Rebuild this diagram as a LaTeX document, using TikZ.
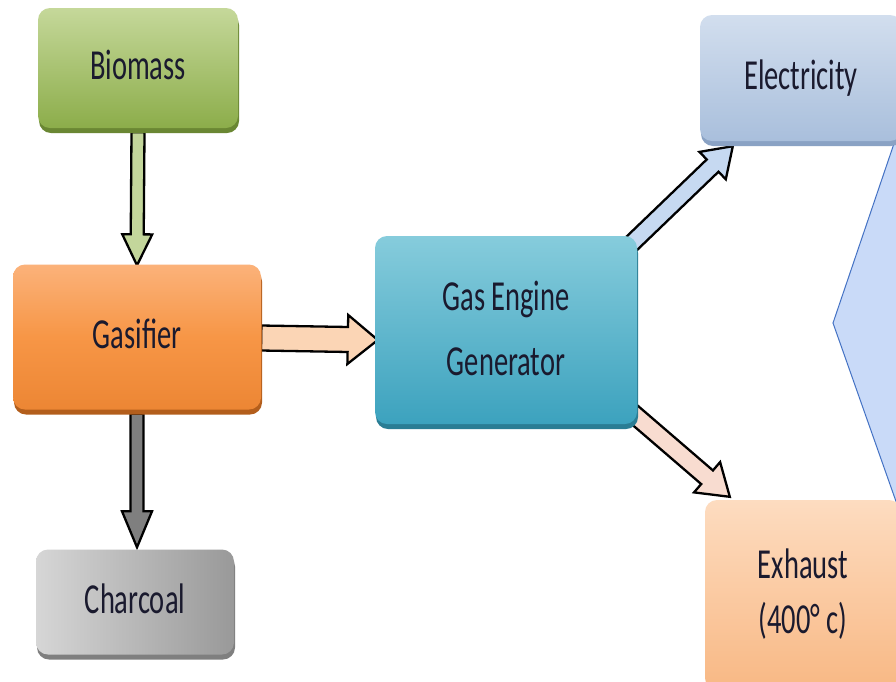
\documentclass[tikz,border=0pt]{standalone}
\usepackage{fontspec}
\setmainfont{Carlito}
\usetikzlibrary{calc,shadows,backgrounds}
\definecolor{txt}{HTML}{1A1A2E}
\definecolor{bioT}{HTML}{C5D89A}\definecolor{bioB}{HTML}{8CAD4A}\definecolor{bioS}{HTML}{6A8733}
\definecolor{gasT}{HTML}{FBB27A}\definecolor{gasM}{HTML}{F79646}\definecolor{gasB}{HTML}{EC8634}\definecolor{gasS}{HTML}{B35E1C}
\definecolor{chT}{HTML}{D6D6D6}\definecolor{chB}{HTML}{999999}\definecolor{chS}{HTML}{5F5F5F}
\definecolor{enT}{HTML}{86CCDC}\definecolor{enB}{HTML}{3CA2BE}\definecolor{enS}{HTML}{2A7D94}
\definecolor{elT}{HTML}{D2DEEE}\definecolor{elB}{HTML}{A9BFDC}\definecolor{elS}{HTML}{8AA2C4}
\definecolor{exT}{HTML}{FDDCC0}\definecolor{exB}{HTML}{F8B884}\definecolor{exS}{HTML}{D99A6A}
\definecolor{aBio}{HTML}{C3D69B}\definecolor{aChar}{HTML}{7F7F7F}\definecolor{aGas}{HTML}{FBD5B5}
\definecolor{aEl}{HTML}{C6D9F1}\definecolor{aEx}{HTML}{F8DCD0}
\definecolor{callF}{HTML}{C9DAF8}\definecolor{callD}{HTML}{4472C4}
\newcommand\Tx[2][1.15]{\scalebox{1}[1.5]{\def\arraystretch{#1}\begin{tabular}{@{}c@{}}#2\end{tabular}}}
\newcommand\blockarrow[6]{%
  \draw[arrowline, fill=#6] let \p1=(#1), \p2=(#2),
    \n1={atan2(\y2-\y1,\x2-\x1)}, \n2={veclen(\x2-\x1,\y2-\y1)} in
    [shift={(\p1)}, rotate=\n1]
    (0,-#3) -- ({\n2-#5},-#3) -- ({\n2-#5},-#4) -- (\n2,0) -- ({\n2-#5},#4)
    -- ({\n2-#5},#3) -- (0,#3) -- cycle;}
\tikzset{
  box/.style={rectangle, rounded corners=12pt, inner sep=0pt, text=txt,
    font=\fontsize{28.5}{34}\selectfont},
  arrowline/.style={draw=black, line width=2.3pt, line join=miter},
}
\begin{document}
\begin{tikzpicture}[x=1pt,y=-1pt]
\useasboundingbox (0,0) rectangle (896,681);

\node[box, minimum width=200pt, minimum height=120pt, top color=bioT, bottom color=bioB,
  drop shadow={shadow xshift=1pt, shadow yshift=-5pt, fill=bioS, opacity=1}] (bio) at (138,68) {\Tx{Biomass}};
\node[box, minimum width=248pt, minimum height=145pt, top color=gasT, bottom color=gasB, middle color=gasM,
  drop shadow={shadow xshift=1pt, shadow yshift=-5pt, fill=gasS, opacity=1}] (gasif) at (137,337) {\Tx{Gasifier}};
\node[box, minimum width=198pt, minimum height=105pt, left color=chT, right color=chB,
  drop shadow={shadow xshift=1pt, shadow yshift=-5pt, fill=chS, opacity=0.8}] (char) at (135,602) {\Tx{Charcoal}};
\node[box, minimum width=262pt, minimum height=188pt, top color=enT, bottom color=enB,
  drop shadow={shadow xshift=1pt, shadow yshift=-5pt, fill=enS, opacity=1}] (engine) at (506,330) {\Tx[1.27]{Gas Engine\\Generator}};
\node[box, minimum width=202pt, minimum height=126pt, top color=elT, bottom color=elB,
  drop shadow={shadow xshift=1pt, shadow yshift=-5pt, fill=elS, opacity=1}] (elec) at (801,78) {\Tx{Electricity}};
\node[box, minimum width=196pt, minimum height=190pt, top color=exT, bottom color=exB,
  drop shadow={shadow xshift=1pt, shadow yshift=-5pt, fill=exS, opacity=1}] (exh) at (803,595) {\Tx[1.09]{Exhaust\\(400° c)}};

\begin{pgfonlayer}{background}
  \fill[white] (0,0) rectangle (896,681);
  \coordinate (cTop) at (elec.south east);
  \coordinate (cTip) at (833,323);
  \coordinate (cBot) at (exh.north east);
  \filldraw[fill=callF, draw=callD, line width=1pt] ($(cTop)+(-4,-10)$) -- (cTip) -- ($(cBot)+(-4,5)$) -- (900,502) -- (900,130) -- cycle;
  \coordinate (a1s) at ($(bio.south)+(0,4)$);
  \coordinate (a1e) at ($(gasif.north)+(0,1)$);
  \blockarrow{a1s}{a1e}{6.5}{15}{31}{aBio}
  \coordinate (a2s) at ($(gasif.south)+(0,4)$);
  \coordinate (a2e) at ($(gasif.south |- char.north)+(0,-2)$);
  \blockarrow{a2s}{a2e}{6.5}{15}{36}{aChar}
  \coordinate (a3s) at ($(gasif.east)+(0,1)$);
  \coordinate (a3e) at ($(engine.west |- gasif.east)+(3,3)$);
  \blockarrow{a3s}{a3e}{12.5}{24.5}{30}{aGas}
  \coordinate (a4s) at ($(engine.north east)+(-8,10)$);
  \coordinate (a4e) at ($(elec.south west)+(33,5)$);
  \blockarrow{a4s}{a4e}{8.5}{19}{28}{aEl}
  \coordinate (a5s) at ($(engine.south east)+(-8,-14)$);
  \coordinate (a5e) at ($(exh.north west)+(25,-3)$);
  \blockarrow{a5s}{a5e}{9}{20}{30}{aEx}
\end{pgfonlayer}
\end{tikzpicture}
\end{document}
